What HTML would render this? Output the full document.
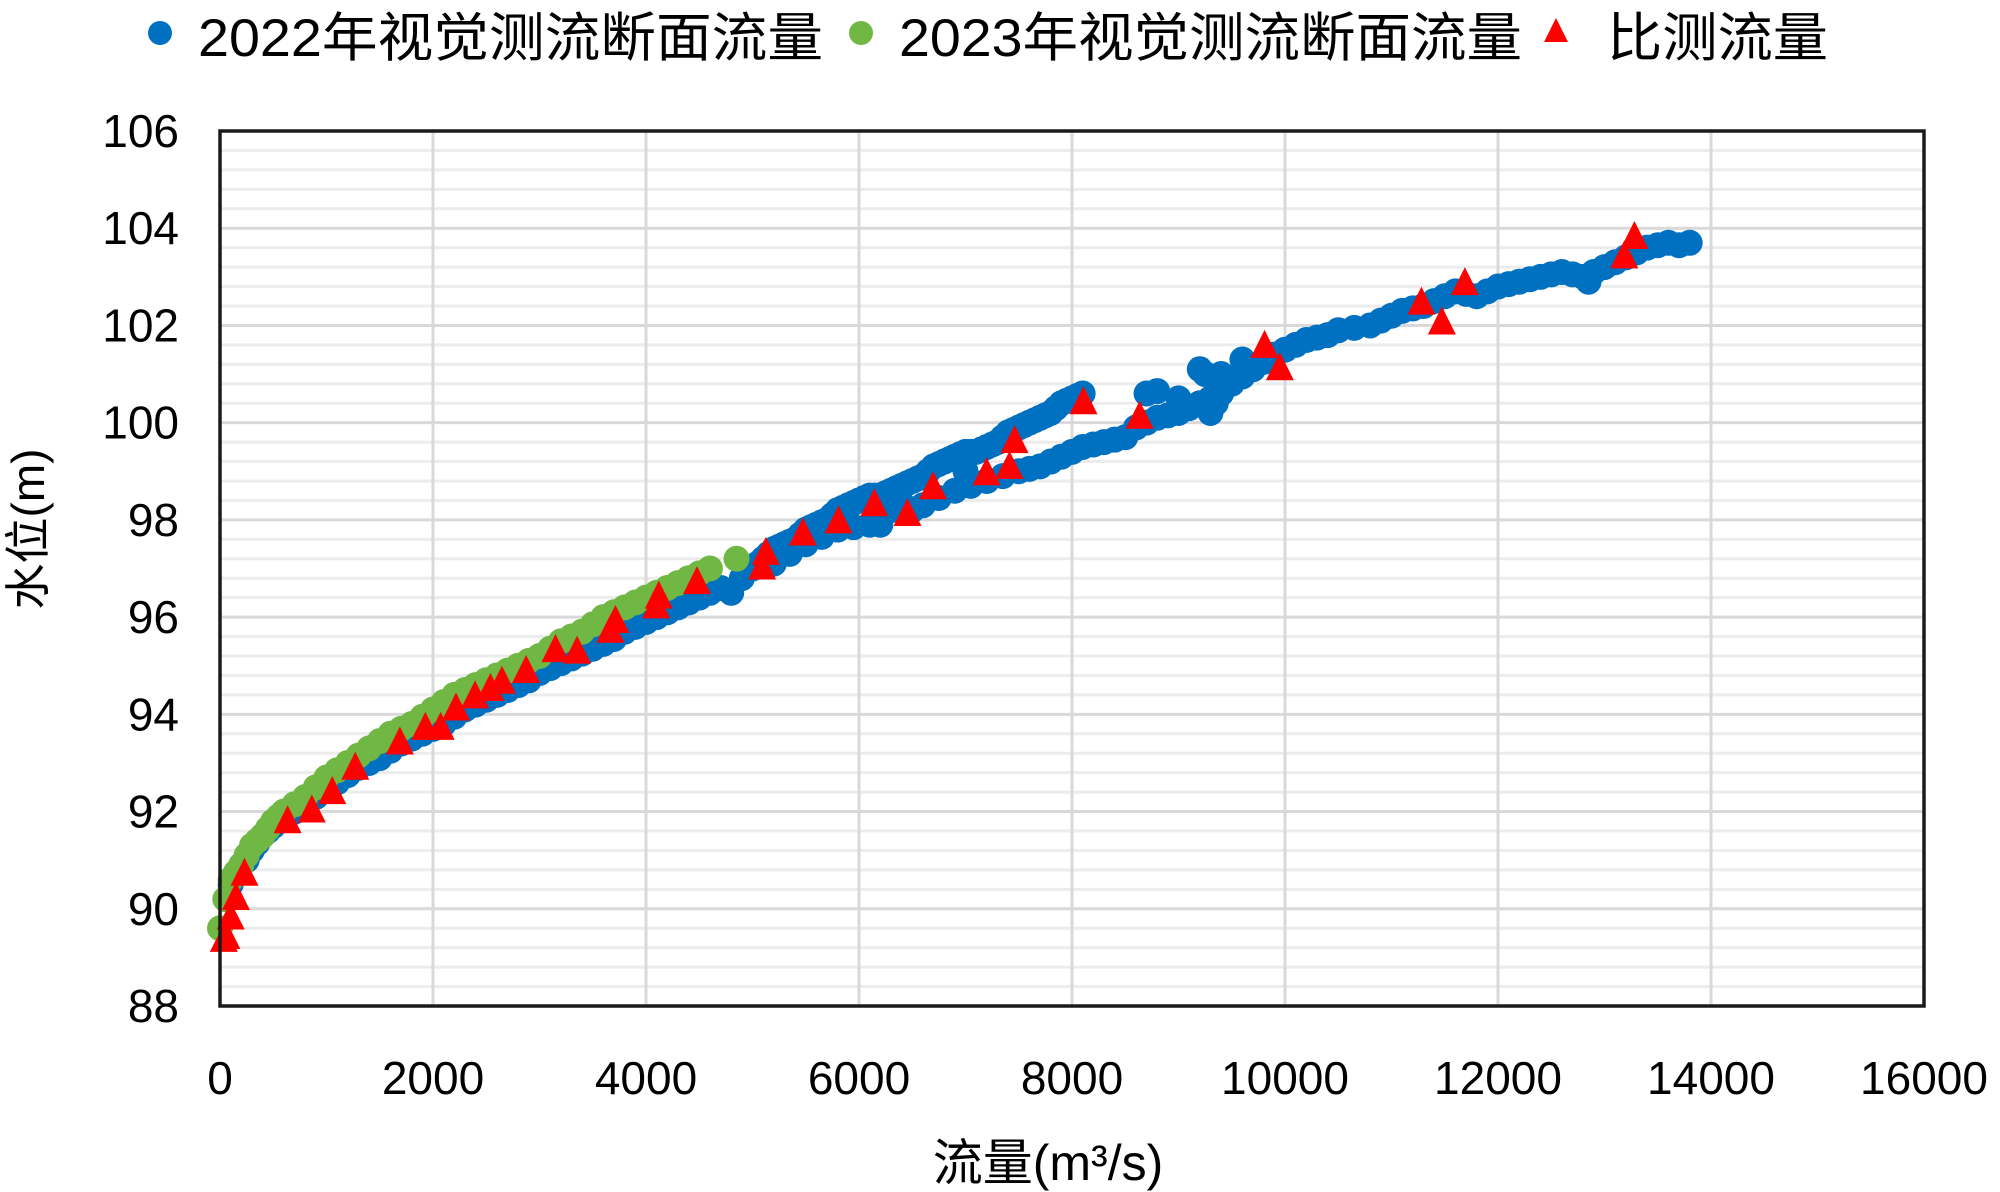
<!DOCTYPE html>
<html><head><meta charset="utf-8"><style>
body{margin:0;background:#fff}
svg{display:block}
text{font-family:"Liberation Sans","Noto Sans CJK SC",sans-serif;fill:#000}
</style></head><body>
<svg id="chart" width="2000" height="1192" viewBox="0 0 2000 1192">
<g id="grid"></g>
<g id="marks"></g>
<rect x="220" y="131" width="1704" height="875" fill="none" stroke="#1a1a1a" stroke-width="3.5"/>
<g id="ticks"></g>
<text transform="translate(44,529) rotate(-90)" text-anchor="middle" font-size="46">水位(m)</text>
<text x="1048" y="1180" text-anchor="middle" font-size="50">流量(m³/s)</text>
<g>
<g>
<circle cx="160" cy="33" r="12" fill="#0070c0"/>
<text x="198" y="56" font-size="53" textLength="625" lengthAdjust="spacingAndGlyphs">2022年视觉测流断面流量</text></g>
<g>
<circle cx="861" cy="33" r="12" fill="#70b743"/>
<text x="899" y="56" font-size="53" textLength="623" lengthAdjust="spacingAndGlyphs">2023年视觉测流断面流量</text></g>
<g>
<polygon points="1556,18 1568,42 1544,42" fill="#ff0000"/>
<text x="1607" y="56" font-size="53" textLength="221" lengthAdjust="spacingAndGlyphs">比测流量</text></g>
</g>
</svg>
<script>
const xTicks=[0,2000,4000,6000,8000,10000,12000,14000,16000];
const yTicks=[88,90,92,94,96,98,100,102,104,106];
const flow22=[60,100,200,300,400,500,700,900,1100,1300,1500,1700,1900,2100,2300,2500,2700,2900,3100,3300,3500,3700,3900,4100,4300,4500,4700,4800,4900,5000,5100,5200,5300,5400,5500,5600,5700,5800,5900,6000,6100,6200,6300,6400,6500,6600,6700,6800,6900,7000,7100,7200,7300,7400,7500,7600,7700,7800,7900,8000,8100,5200,5500,5800,6100,6300,6600,6900,7200,7500,7700,7900,8100,8300,8500,8600,8800,9000,9200,9400,9500,9700,9900,10100,10300,10500,10800,11000,11200,11400,11600,11800,12000,12200,12400,12600,12800,13000,13200,13400,13600,13800,13700,8700,8800,9000,9200,9400,9600,9300,7000,6500,6200,
150,250,350,450,600,800,1000,1200,1400,1600,1800,2000,2200,2400,2600,2800,3000,3200,3400,3600,3800,4000,4200,4400,4600,5050,5150,5250,5350,5450,5550,5650,5750,5850,5950,6050,6150,6250,6350,6450,6550,6650,6750,6850,6950,7050,7150,7250,7350,7450,7550,7650,7750,7850,7950,8050,5350,5650,5950,6450,6750,7050,7350,7600,7800,8000,8200,8400,8700,8900,9100,9300,9600,9800,10000,10200,10400,10650,10900,11100,11300,11500,11700,11900,12100,12300,12500,12700,12900,13100,13300,13500,12850,9250,9450,9350];
const stage22=[90.2,90.5,90.9,91.2,91.5,91.7,92.0,92.3,92.6,92.9,93.1,93.4,93.6,93.8,94.1,94.3,94.5,94.7,94.95,95.15,95.35,95.55,95.8,96.0,96.2,96.4,96.6,96.5,96.8,97.0,97.2,97.4,97.5,97.6,97.8,97.9,98.0,98.2,98.3,98.4,98.5,98.5,98.6,98.7,98.8,98.9,99.1,99.2,99.3,99.4,99.4,99.5,99.6,99.8,99.9,100.0,100.1,100.2,100.4,100.5,100.6,97.1,97.5,97.8,97.9,98.2,98.3,98.6,98.8,99.0,99.1,99.3,99.5,99.6,99.7,99.9,100.1,100.2,100.4,100.6,100.8,101.1,101.4,101.6,101.75,101.9,102.0,102.2,102.35,102.5,102.7,102.6,102.8,102.9,103.0,103.1,103.0,103.2,103.4,103.6,103.7,103.7,103.65,100.6,100.65,100.5,101.1,101.0,101.3,100.2,99.0,98.2,97.9,
90.7,91.0,91.35,91.6,91.85,92.15,92.45,92.75,93.0,93.25,93.5,93.7,93.95,94.2,94.4,94.6,94.85,95.05,95.25,95.45,95.7,95.9,96.1,96.3,96.5,97.1,97.3,97.45,97.55,97.7,97.85,97.95,98.1,98.25,98.35,98.45,98.5,98.55,98.65,98.75,98.85,99.0,99.15,99.25,99.35,99.4,99.45,99.55,99.7,99.85,99.95,100.05,100.15,100.3,100.45,100.55,97.3,97.65,97.85,98.25,98.45,98.7,98.9,99.05,99.2,99.4,99.55,99.65,100.0,100.15,100.3,100.5,100.95,101.25,101.5,101.7,101.8,101.95,102.1,102.3,102.4,102.6,102.65,102.7,102.85,102.95,103.05,103.05,103.1,103.3,103.5,103.65,102.9,101.0,100.8,100.4];
const flow23=[0,50,100,200,300,400,500,600,800,1000,1200,1400,1600,1800,2000,2200,2400,2600,2800,3000,3200,3400,3600,3800,4000,4200,4400,4600,4850,150,250,350,450,550,700,900,1100,1300,1500,1700,1900,2100,2300,2500,2700,2900,3100,3300,3500,3700,3900,4100,4300,4500];
const stage23=[89.6,90.2,90.6,90.9,91.3,91.5,91.8,92.0,92.3,92.7,93.0,93.3,93.6,93.8,94.1,94.4,94.6,94.8,95.0,95.2,95.5,95.7,96.0,96.2,96.4,96.6,96.8,97.0,97.2,90.75,91.1,91.4,91.65,91.9,92.15,92.5,92.85,93.15,93.45,93.7,93.95,94.25,94.5,94.7,94.9,95.1,95.35,95.6,95.85,96.1,96.3,96.5,96.7,96.9];
const flowM=[36,60,100,150,230,635,862,1054,1270,1689,1928,2072,2216,2395,2539,2647,2874,3150,3353,3665,3713,4096,4120,4479,5090,5126,5473,5808,6144,6455,6695,7198,7413,7461,8108,8635,9808,9952,11281,11473,11689,13186,13281];
const stageM=[89.34,89.4,89.8,90.2,90.7,91.78,92.0,92.38,92.88,93.4,93.7,93.7,94.1,94.35,94.5,94.65,94.87,95.3,95.27,95.7,95.9,96.2,96.4,96.7,97.0,97.3,97.7,97.95,98.3,98.1,98.65,98.94,99.07,99.6,100.4,100.1,101.56,101.1,102.45,102.04,102.85,103.4,103.8];

const NS='http://www.w3.org/2000/svg';
const X0=220,X1=1924,Y0=1006,Y1=131;
const xs=v=>X0+(v-0)/16000*(X1-X0);
const ys=v=>Y0-(v-88)/18*(Y0-Y1);
function mk(tag,attrs,parent){const e=document.createElementNS(NS,tag);for(const k in attrs)e.setAttribute(k,attrs[k]);parent.appendChild(e);return e;}
const grid=document.getElementById('grid'),marks=document.getElementById('marks'),ticks=document.getElementById('ticks');
for(let i=0;i<45;i++){const v=88+i*0.4;if(Math.abs((v-88)%2)<0.01||Math.abs((v-88)%2-2)<0.01)continue;
const l=mk('line',{x1:X0,x2:X1,y1:ys(v),y2:ys(v),stroke:'#ececec','stroke-width':3},grid);

}
yTicks.forEach(v=>{const l=mk('line',{x1:X0,x2:X1,y1:ys(v),y2:ys(v),stroke:'#d9d9d9','stroke-width':3},grid);


const t=mk('text',{x:179,y:ys(v)+16,'text-anchor':'end','font-size':46},ticks);t.textContent=v;

});
xTicks.forEach(v=>{const l=mk('line',{x1:xs(v),x2:xs(v),y1:Y1,y2:Y0,stroke:'#d9d9d9','stroke-width':3},grid);


const t=mk('text',{x:xs(v),y:1094,'text-anchor':'middle','font-size':46},ticks);t.textContent=v;

});
flow22.forEach((f,i)=>{const c=mk('circle',{cx:xs(f),cy:ys(stage22[i]),r:13,fill:'#0070c0'},marks);

});
flow23.forEach((f,i)=>{const c=mk('circle',{cx:xs(f),cy:ys(stage23[i]),r:13,fill:'#70b743'},marks);

});
flowM.forEach((f,i)=>{const x=xs(f),y=ys(stageM[i]);
const p=mk('polygon',{points:`${x},${y-17} ${x+14},${y+11} ${x-14},${y+11}`,fill:'#ff0000'},marks);

});
</script>
</body></html>
